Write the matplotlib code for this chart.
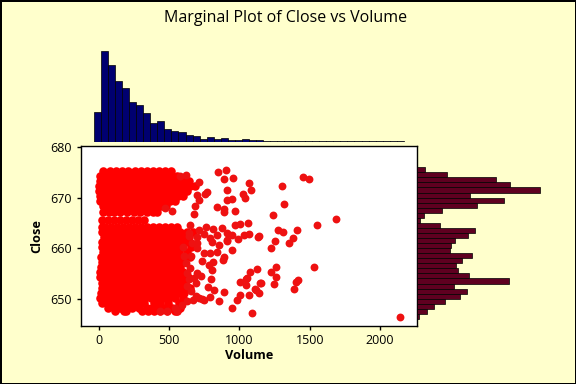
import matplotlib
matplotlib.use('Agg')
import matplotlib.pyplot as plt

plt.rcParams['font.family'] = ['Open Sans', 'DejaVu Sans']

# marginal histograms
vol_centers = [50 * i for i in range(44)]
vol_counts = [30, 91, 77, 61, 54, 40, 37, 29, 19, 21, 13, 11, 10, 7, 6, 3, 5, 3, 4, 2, 2, 3,
              2, 2, 1, 1, 1, 1, 1, 1, 1, 1, 1, 1, 1, 1, 1, 1, 1, 1, 1, 1, 1, 1]
close_centers = [675.5 - i for i in range(30)]
close_counts = [8, 30, 79, 93, 123, 53, 87, 60, 25, 7, 3, 23, 58, 51, 38, 34, 33, 55, 45, 39,
                41, 52, 92, 37, 50, 43, 28, 17, 10, 2]

# solid part of the cloud, one list of volumes per close level
dense_close = [675.2, 674.3, 673.3, 672.3, 671.3, 670.3, 669.3, 668.3, 667.1,
               665.5, 664.2, 663.2, 662.2, 661.2, 660.2, 659.2, 658.2, 657.2, 656.2,
               655.2, 654.2, 653.2, 652.2, 651.2, 650.2, 649.2, 648.2, 647.6]
dense_volume = [
    [32, 78, 125, 170, 212, 258, 301, 345, 388, 430, 472, 515],
    [14, 55, 98, 140, 184, 226, 268, 312, 355, 398, 440, 482, 522, 560],
    [8, 36, 78, 120, 162, 205, 248, 290, 334, 376, 418, 462, 504, 546, 590, 640],
    [6, 52, 95, 138, 180, 224, 266, 308, 352, 394, 438, 480, 522, 565, 608, 652, 682],
    [5, 34, 76, 118, 160, 204, 246, 288, 332, 374, 416, 460, 502, 545, 588, 628],
    [8, 54, 96, 140, 182, 224, 268, 310, 352, 396, 438, 480, 522, 566, 600],
    [14, 38, 80, 122, 166, 208, 250, 294, 336, 378, 420, 462, 506, 540],
    [30, 62, 104, 148, 190, 232, 276, 318, 360, 402, 445, 478],
    [34, 72, 112, 156, 205, 250, 294, 345, 385, 415],
    [28, 70, 112, 155, 198, 240, 282, 322],
    [24, 48, 90, 132, 175, 218, 260, 302, 346, 390, 432, 474, 512, 560],
    [26, 68, 110, 154, 196, 238, 280, 324, 366, 408, 450, 492, 535, 580, 625, 668],
    [36, 46, 88, 130, 174, 216, 258, 302, 344, 386, 428, 472, 514, 556, 600, 640],
    [24, 66, 110, 152, 194, 236, 280, 322, 364, 406, 450, 492, 534, 578, 620],
    [22, 44, 86, 130, 172, 214, 258, 300, 342, 384, 428, 470, 512, 556, 596, 655],
    [30, 64, 108, 150, 192, 236, 278, 320, 362, 406, 448, 490, 534, 572, 625],
    [18, 42, 84, 128, 170, 214, 256, 298, 340, 384, 426, 468, 512, 552, 590, 650],
    [24, 62, 106, 148, 190, 234, 276, 318, 360, 404, 446, 488, 530, 566, 610],
    [16, 40, 82, 126, 168, 212, 254, 296, 338, 382, 424, 466, 510, 548, 580],
    [12, 60, 104, 146, 188, 232, 274, 316, 358, 402, 444, 486, 528, 560, 600],
    [8, 38, 80, 124, 166, 210, 252, 294, 336, 380, 422, 464, 506, 546, 585, 632],
    [22, 58, 102, 144, 186, 230, 272, 314, 356, 400, 442, 484, 526, 570, 612],
    [28, 36, 78, 122, 164, 208, 250, 292, 334, 378, 420, 462, 504, 548, 590, 650],
    [18, 56, 100, 142, 184, 228, 270, 312, 354, 398, 440, 482, 524, 566, 610],
    [10, 34, 76, 120, 162, 206, 248, 290, 332, 376, 418, 460, 502, 546, 600],
    [24, 60, 104, 146, 190, 232, 276, 320, 392, 440, 490, 575],
    [70, 114, 156, 200, 240, 290, 344, 382, 412, 468, 520, 578],
    [118, 178, 192, 310, 352, 395, 440, 488, 540, 559],
]

# stray points outside the solid part
loose_volume = [850, 904, 890, 954, 1068, 1082, 1025, 1042, 914, 909, 947, 840, 893, 893, 968,
                677, 684, 717, 701, 772, 755, 712, 618, 577, 521, 469, 653, 712, 762, 812, 876,
                966, 1008, 1063, 1131, 1072, 1032, 989, 949, 914, 914, 843, 795, 748, 701, 807,
                949, 890, 886, 855, 914, 843, 795, 812, 784, 807, 737, 701, 746, 798, 819, 890,
                855, 748, 712, 795, 776, 689, 725, 701, 630, 630, 594, 559, 540, 488, 440, 949,
                1092, 980, 1004, 1070, 1115, 1139, 1004, 1044, 1056, 1075, 1127, 1145, 1049,
                1451, 1494, 1302, 1316, 1238, 1685, 1553, 1408, 1276, 1309, 1380, 1352, 1252,
                1224, 1139, 1262, 1224, 1259, 1243, 1153, 1529, 1418, 1401, 1387, 1110, 2140,
                640, 665, 700, 660, 620, 650, 680, 625, 655, 690, 735, 610, 640, 670, 600, 640]
loose_close = [675.0, 675.4, 673.7, 673.9, 672.9, 671.5, 670.7, 669.9, 671.4, 669.6, 669.7,
               668.1, 667.8, 667.1, 667.3, 666.8, 668.3, 669.6, 670.6, 671.2, 670.7, 673.1,
               674.5, 674.2, 667.3, 667.9, 664.5, 663.6, 664.2, 663.8, 664.0, 664.6, 664.8,
               665.0, 662.3, 662.8, 662.5, 661.8, 662.5, 663.0, 661.7, 662.5, 662.0, 662.8,
               662.2, 661.3, 659.7, 658.2, 657.6, 660.7, 661.5, 659.3, 659.1, 657.2, 656.7,
               655.7, 657.4, 661.0, 659.0, 653.9, 651.8, 651.3, 649.6, 649.8, 650.1, 650.3,
               652.4, 653.1, 654.4, 655.1, 655.1, 649.5, 648.8, 647.5, 648.2, 647.6, 647.5,
               648.2, 647.2, 649.7, 650.8, 650.8, 651.8, 651.1, 653.3, 652.8, 654.1, 655.3,
               655.9, 653.1, 653.9, 674.0, 673.7, 672.3, 668.7, 666.5, 665.7, 664.6, 663.6,
               663.6, 663.2, 662.0, 661.0, 661.4, 660.0, 662.4, 656.3, 655.3, 654.3, 652.9,
               653.1, 656.3, 653.7, 653.3, 651.9, 651.9, 646.4, 663.0, 661.0, 660.0, 658.5,
               657.0, 656.0, 654.0, 652.5, 651.5, 650.5, 650.0, 658.5, 653.8, 649.8, 660.3,
               662.4]

W, H = 576, 384
fig = plt.figure(figsize=(5.76, 3.84), dpi=100, facecolor='#ffffcc', edgecolor='black', linewidth=2)

ax = fig.add_axes([80.5 / W, (H - 326) / H, 336.5 / W, 180.5 / H], facecolor='white')
for c, vols in zip(dense_close, dense_volume):
    ax.scatter(vols, [c] * len(vols), s=38, c='#ff0000', linewidths=0)
ax.scatter(loose_volume, loose_close, s=32, c='#ee1111', linewidths=0)
ax.set_xlim(-128, 2262)
ax.set_ylim(644.6, 680.3)
ax.set_xticks([0, 500, 1000, 1500, 2000])
ax.set_yticks([650, 660, 670, 680])
ax.tick_params(length=3, width=1, labelsize=9, pad=3)
for s in ax.spines.values():
    s.set_linewidth(1)
ax.set_xlabel('Volume', fontsize=9.2, fontweight='bold', labelpad=1)
ax.set_ylabel('Close', fontsize=9.2, fontweight='bold', labelpad=5)

top = fig.add_axes([80.5 / W, (H - 141.7) / H, 336.5 / W, 92 / H])
top.bar(vol_centers, vol_counts, width=50, color='#000070', edgecolor='black', linewidth=0.5)
top.set_xlim(-121, 2269)
top.set_ylim(0, 92)
top.axis('off')

side = fig.add_axes([417 / W, (H - 326) / H, 125 / W, 180.5 / H])
side.barh(close_centers, close_counts, height=1, color='#5f0020', edgecolor='black', linewidth=0.5)
side.set_ylim(644.6, 680.3)
side.set_xlim(0, 125)
side.axis('off')

fig.text(286 / W, 1 - 18 / H, 'Marginal Plot of Close vs Volume', fontsize=11.5, ha='center', va='center')

fig.savefig('out.png', dpi=100)
